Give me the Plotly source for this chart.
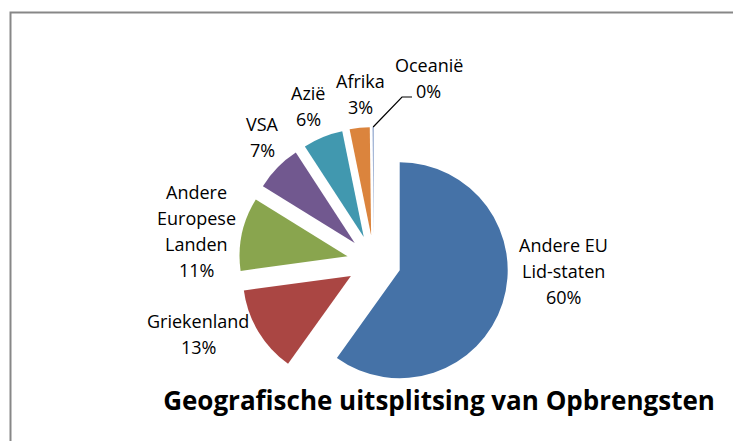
import math
import plotly.graph_objects as go

categories = ["Andere EU Lid-staten", "Griekenland", "Andere Europese Landen",
              "VSA", "Azië", "Afrika", "Oceanië"]
label_lines = [["Andere EU", "Lid-staten"], ["Griekenland"], ["Andere", "Europese", "Landen"],
               ["VSA"], ["Azië"], ["Afrika"], ["Oceanië"]]
values = [60, 13, 11, 7, 6, 3, 0.2]
colors = ["#4572A7", "#AA4643", "#89A54E", "#71588F", "#4198AF", "#DB843D", "#93A9CF"]
title_text = "Geografische uitsplitsing van Opbrengsten"

W, H = 733, 441
cx, cy, R = 374, 262, 135          # pie centre and outer extent incl. pull (px)
PULL = 0.25
LH = 26.3                          # label line height (px)
# data-label block centres (px), placed like the original's best-fit labels
label_pos = [(563, 270), (198, 333), (196, 230), (262, 136), (308, 105), (360, 93), (429, 77)]

def px(x):
    return x / W

def py(y):
    return 1 - y / H

fig = go.Figure(go.Pie(
    labels=categories,
    values=values,
    textinfo="none",
    sort=False,
    direction="clockwise",
    rotation=0,
    pull=[PULL] * len(values),
    marker=dict(colors=colors, line=dict(width=0)),
    showlegend=False,
    hoverinfo="label+percent",
    domain=dict(x=[px(cx - R), px(cx + R)], y=[py(cy + R), py(cy - R)]),
))

total = sum(values)
annotations = []
for lines, v, (lx, ly) in zip(label_lines, values, label_pos):
    pct = round(v / total * 100)
    all_lines = lines + [f"{pct}%"]
    n = len(all_lines)
    for i, line in enumerate(all_lines):
        yy = ly + (i - (n - 1) / 2) * LH + 1
        annotations.append(dict(
            text=line, x=px(lx), y=py(yy), xref="paper", yref="paper",
            xanchor="center", yanchor="middle", showarrow=False, align="center",
            font=dict(family="Open Sans", size=18, color="#000000"),
        ))

# leader line from the tiny Oceanië slice to its label
cum = sum(values[:-1]) + values[-1] / 2
ang = cum / total * 2 * math.pi
tip_x = cx + R * math.sin(ang)
tip_y = cy - R * math.cos(ang)
lx, ly = label_pos[-1]
elbow_x, elbow_y = lx - 27, ly + 20
end_x = lx - 17
leader = dict(type="path", xref="paper", yref="paper",
              path=f"M {px(tip_x)} {py(tip_y)} L {px(elbow_x)} {py(elbow_y)} L {px(end_x)} {py(elbow_y)}",
              line=dict(color="#000000", width=1.2))

fig.update_layout(
    width=W, height=H,
    margin=dict(l=0, r=0, t=0, b=0),
    paper_bgcolor="white",
    title=dict(text="<b>" + title_text + "</b>", x=439 / W, xanchor="center",
               y=(H - 401) / H, yanchor="middle",
               font=dict(family="Open Sans", size=26, color="#000000")),
    annotations=annotations,
    shapes=[dict(type="rect", xref="paper", yref="paper",
                 x0=10.5 / W, x1=1.2, y0=-0.2, y1=1 - 12.5 / H,
                 line=dict(color="#878787", width=2), fillcolor="rgba(0,0,0,0)"),
            leader],
)

fig.write_html("out.html", config={"displayModeBar": False},
               post_script="document.body.style.margin='0';document.body.style.overflow='hidden';")
